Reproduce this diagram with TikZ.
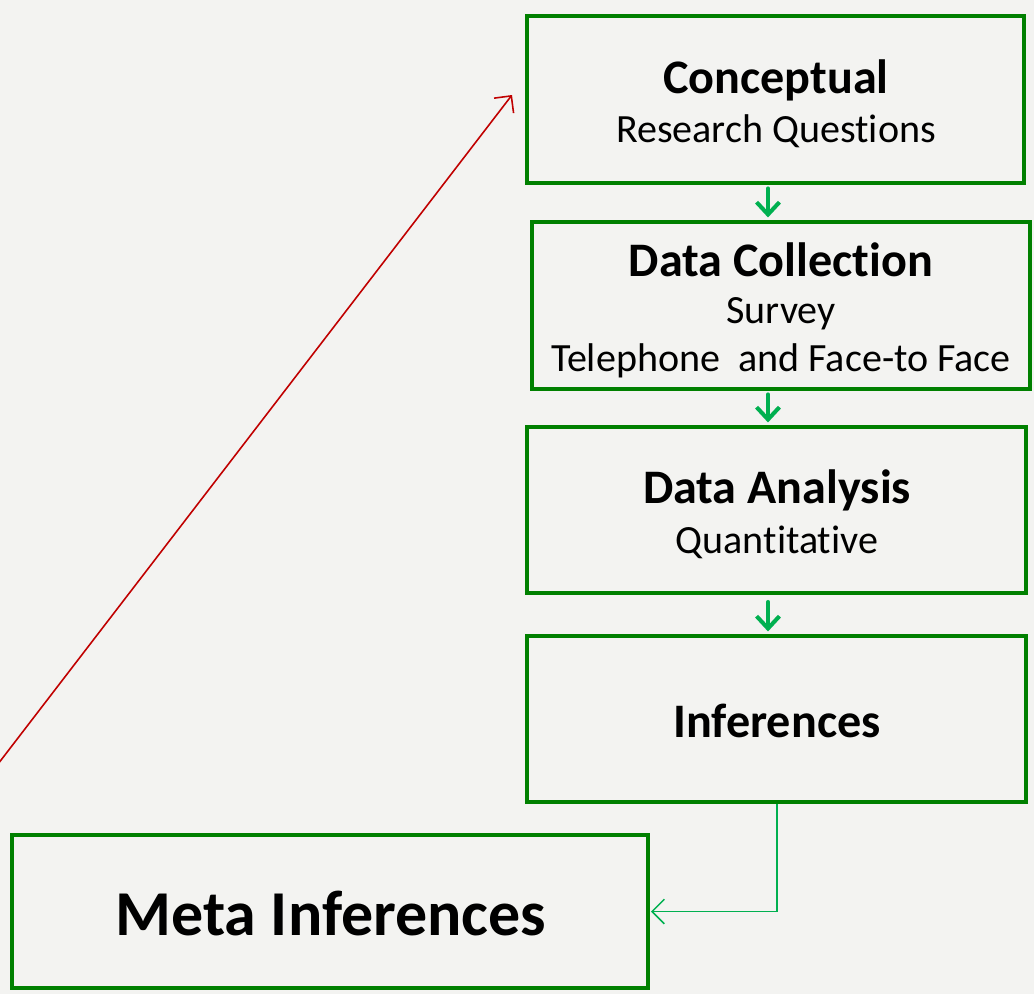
\documentclass[tikz,border=0pt]{standalone}
\usepackage{fontspec}
\setmainfont{Carlito}[Ligatures=NoCommon]
\usetikzlibrary{arrows.meta,fit}
\definecolor{bg}{HTML}{F3F3F1}
\definecolor{boxgreen}{HTML}{008000}
\definecolor{argreen}{HTML}{00B050}
\definecolor{darkred}{HTML}{C00000}
\tikzset{
  box/.style={draw=boxgreen, line width=2.2pt, inner sep=0pt},
  ttl/.style={font=\fontsize{27.4}{30}\selectfont\bfseries, inner sep=0pt},
  sub/.style={font=\fontsize{22.8}{26}\selectfont, inner sep=0pt},
  garrow/.style={draw=argreen, line width=2.3pt, line cap=round,
    -{Straight Barb[length=7pt, width=13pt, line width=2.3pt]}},
  conn/.style={draw=argreen, line width=0.9pt,
    -{Straight Barb[length=7pt, width=14pt]}},
  redline/.style={draw=darkred, line width=0.9pt,
    -{Straight Barb[length=7pt, width=14pt]}}
}
\begin{document}
\begin{tikzpicture}[x=0.02cm, y=-0.02cm]
\fill[bg] (0,0) rectangle (1034,994);
\useasboundingbox (0,0) rectangle (1034,994);

\node[box, fit={(527,16) (1024,183)}] (c) {};
\node[box, fit={(532,222) (1030,389)}] (dc) {};
\node[box, fit={(527,427) (1026,593)}] (da) {};
\node[box, fit={(527,636) (1026,802)}] (inf) {};
\node[box, fit={(12,835) (648,988)}] (meta) {};

\node[ttl] (ct) at (776,80) {Conceptual};
\node[sub] (cs) at (776,131) {Research Questions};
\node[ttl] (dct) at (781,260) {Data Collection};
\node[sub] (dcs1) at (781,314) {Survey};
\node[sub] (dcs2) at (781,361) {Telephone\ \ and Face-to Face};
\node[ttl] (dat) at (777,490) {Data Analysis};
\node[sub] (das) at (777,542) {Quantitative};
\node[ttl] (inft) at (777,721) {Inferences};
\node[font=\fontsize{36.4}{40}\selectfont\bfseries, inner sep=0pt] (mt) at (331,913) {Meta Inferences};

\coordinate (ax) at (768,0);
\draw[garrow, shorten <=2pt, shorten >=1.5pt] (c.south -| ax) -- (dc.north -| ax);
\draw[garrow, shorten <=2pt, shorten >=1.5pt] (dc.south -| ax) -- (da.north -| ax);
\draw[garrow, shorten <=4pt, shorten >=1.5pt] (da.south -| ax) -- (inf.north -| ax);

\coordinate (cx) at (777,0);
\draw[conn, shorten >=0.6pt] (inf.south -| cx) |- (meta.east);

\coordinate (redstart) at (-2,764);
\coordinate (redend) at (512,95);
\draw[redline] (redstart) -- (redend);
\end{tikzpicture}
\end{document}
